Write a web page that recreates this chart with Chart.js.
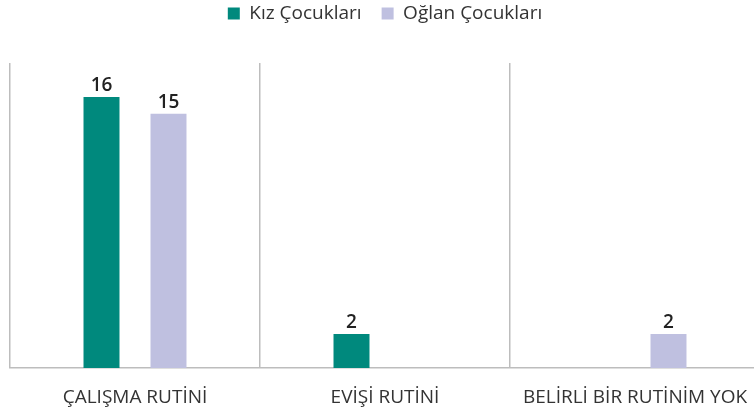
<!DOCTYPE html>
<html>
<head>
<meta charset="utf-8">
<script src="https://cdn.jsdelivr.net/npm/chart.js@4/dist/chart.umd.min.js"></script>
<style>
  html, body { margin: 0; padding: 0; background: #fff; overflow: hidden; }
  #wrap { width: 788px; height: 414px; }
</style>
</head>
<body>
<div id="wrap"><canvas id="rutin"></canvas></div>
<script>
/* DATA */
const kategoriler = ["ÇALIŞMA RUTİNİ", "EVİŞİ RUTİNİ", "BELİRLİ BİR RUTİNİM YOK"]
const kizCocuklari = [16, 2, 0]
const oglanCocuklari = [15, 0, 2]
const seriIsimleri = ["Kız Çocukları", "Oğlan Çocukları"]

const yaziTipi = "'Open Sans', sans-serif"

// bar ustune deger yazan kucuk plugin
const degerEtiketleri = {
    id: "degerEtiketleri",
    afterDatasetsDraw(chart) {
        const ctx = chart.ctx
        ctx.save()
        ctx.font = "600 19px " + yaziTipi
        ctx.fillStyle = "#222"
        ctx.textAlign = "center"
        ctx.textBaseline = "alphabetic"
        chart.data.datasets.forEach((ds, i) => {
            chart.getDatasetMeta(i).data.forEach((bar, j) => {
                if (!ds.data[j]) return
                ctx.fillText(ds.data[j], bar.x, bar.y - 6)
            })
        })
        ctx.restore()
    }
}

// legend ile grafik arasinda bosluk
const legendBosluk = {
    id: "legendBosluk",
    beforeInit(chart) {
        const eskiFit = chart.legend.fit
        chart.legend.fit = function () {
            eskiFit.bind(chart.legend)()
            this.height += 30
        }
    }
}

let rutinCanvas = document.getElementById("rutin").getContext("2d")

new Chart(rutinCanvas, {
    type: "bar",
    data: {
        labels: kategoriler,
        datasets: [{
                label: seriIsimleri[0],
                data: kizCocuklari,
                backgroundColor: "#00897d",
                categoryPercentage: 0.536,
                barPercentage: 0.537
            },
            {
                label: seriIsimleri[1],
                data: oglanCocuklari,
                backgroundColor: "#bfc0e0",
                categoryPercentage: 0.536,
                barPercentage: 0.537
            }
        ]
    },
    options: {
        responsive: true,
        maintainAspectRatio: false,
        animation: false,
        layout: { padding: { left: 10, right: 28, top: -16, bottom: 0 } },
        plugins: {
            legend: {
                position: "top",
                labels: {
                    boxWidth: 12,
                    boxHeight: 12,
                    padding: 20,
                    color: "#333",
                    font: { family: yaziTipi, size: 19 }
                }
            },
            tooltip: { enabled: false }
        },
        scales: {
            x: {
                afterFit(scale) { scale.height = 46 },
                grid: {
                    offset: true,
                    drawTicks: false,
                    color: "#bdbdbd",
                    lineWidth: 1.5
                },
                border: { display: true, color: "#bdbdbd", width: 1.5 },
                ticks: {
                    padding: 18,
                    color: "#333",
                    maxRotation: 0,
                    font: { family: yaziTipi, size: 19 }
                }
            },
            y: {
                display: false,
                min: 0,
                max: 18
            }
        }
    },
    plugins: [degerEtiketleri, legendBosluk]
})
</script>
</body>
</html>
